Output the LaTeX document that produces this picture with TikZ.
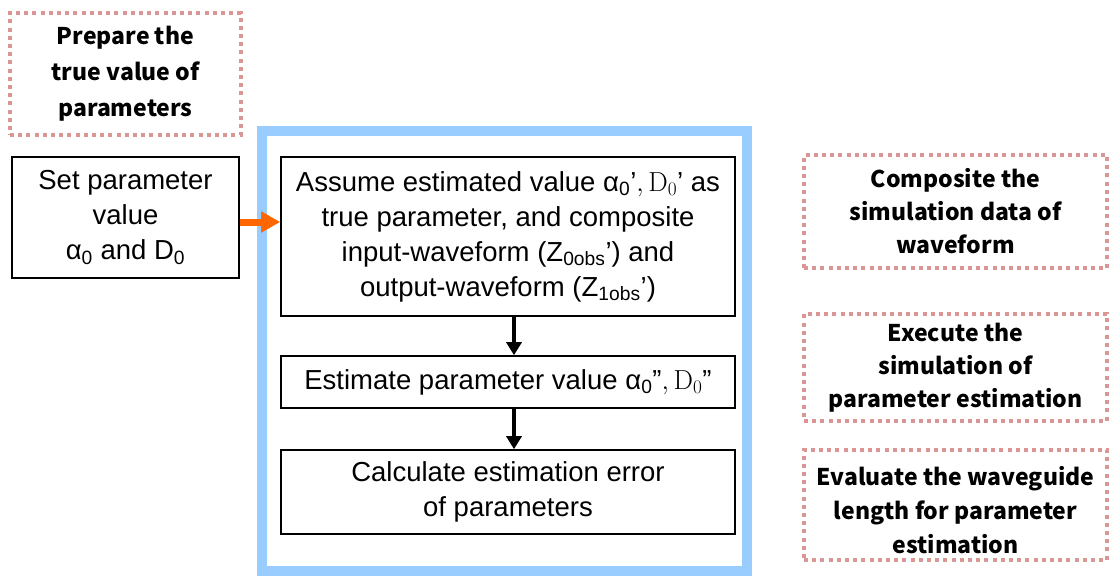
\documentclass[tikz,border=0pt]{standalone}
\usepackage{fix-cm}
\usepackage[no-math]{fontspec}
\setmainfont{Liberation Sans}
\newfontfamily\notefont{Noto Sans CJK JP}
\usetikzlibrary{arrows.meta}
\definecolor{frameblue}{RGB}{153,204,255}
\definecolor{notepink}{RGB}{217,150,148}
\definecolor{flowred}{RGB}{255,102,0}
\tikzset{
  stepbox/.style={draw=black, line width=1.6pt, fill=white, align=center,
    inner sep=0pt, font=\fontsize{27.5}{35}\selectfont},
  notebox/.style={draw=notepink, line width=4pt, dash pattern=on 4pt off 4.2pt,
    align=center, inner sep=0pt,
    font=\notefont\bfseries\fontsize{23}{33}\selectfont},
  flow/.style={-{Triangle[length=13pt,width=15pt]}, line width=4.5pt, black},
}
\begin{document}
\begin{tikzpicture}[x=1pt,y=-1pt]
\useasboundingbox (0,0) rectangle (1109,576);
\fill[white] (0,0) rectangle (1109,576);

% frame of the simulation loop
\draw[frameblue, line width=10pt] (262,131) rectangle (747,571);

% annotations
\node[notebox, minimum width=231pt, minimum height=122pt,
  font=\notefont\bfseries\fontsize{23}{36}\selectfont] (prep) at (125.5,74)
  {Prepare the\\true value of\\parameters};
\node[notebox, minimum width=303pt, minimum height=113pt] (comp) at (955.5,211.5)
  {Composite the\\simulation data of\\waveform};
\node[notebox, minimum width=303pt, minimum height=107pt] (exec) at (955.5,367.5)
  {Execute the\\simulation of\\parameter estimation};
\node[notebox, minimum width=303pt, minimum height=110pt] (eval) at (955.5,505) {};
\node[align=center, inner sep=0pt,
  font=\notefont\bfseries\fontsize{23}{34}\selectfont] (evaltext)
  at ([yshift=-5pt]eval.center)
  {Evaluate the waveguide\\length for parameter\\estimation};

% process steps
\node[stepbox, minimum width=227pt, minimum height=121pt] (set) at (125.5,217.5)
  {Set parameter\\value\\α\textsubscript{0} and D\textsubscript{0}};
\node[stepbox, minimum width=454pt, minimum height=159pt] (assume) at (508,236.5)
  {Assume estimated value α\textsubscript{0}’$,\mathrm{D}_0$’ as\\
   true parameter, and composite\\
   input-waveform (Z\textsubscript{0obs}’) and\\
   output-waveform (Z\textsubscript{1obs}’)};
\node[stepbox, minimum width=454pt, minimum height=52pt] (estim) at (508,382)
  {Estimate parameter value α\textsubscript{0}”$,\mathrm{D}_0$”};
\node[stepbox, minimum width=454pt, minimum height=84pt] (calc) at (508,492)
  {Calculate estimation error\\of parameters};

% connectors
\coordinate (feed) at ([yshift=-4.5pt]set.east);
\draw[-{Triangle[length=19pt,width=20pt]}, line width=7pt, flowred]
  (feed) -- (feed -| assume.west);
\draw[flow] ([xshift=6pt]assume.south) -- ([xshift=6pt]estim.north);
\draw[flow] ([xshift=6pt]estim.south) -- ([xshift=6pt]calc.north);
\end{tikzpicture}
\end{document}
